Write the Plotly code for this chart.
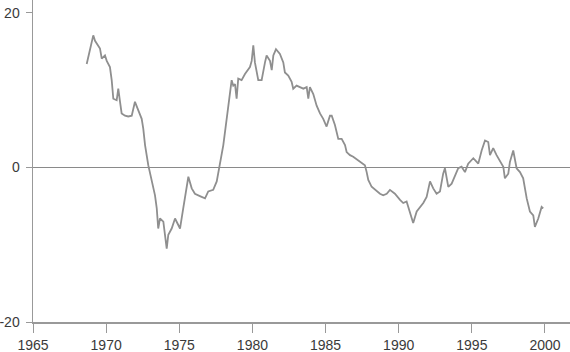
import plotly.graph_objects as go

years = [1968.67, 1969.12, 1969.24, 1969.46, 1969.58, 1969.70, 1969.92, 1970.04, 1970.26, 1970.38,
         1970.49, 1970.72, 1970.83, 1970.95, 1971.06, 1971.29, 1971.51, 1971.75, 1971.97, 1972.20,
         1972.43, 1972.54, 1972.66, 1972.88, 1973.11, 1973.34, 1973.46, 1973.56, 1973.68, 1973.91,
         1974.02, 1974.14, 1974.25, 1974.48, 1974.71, 1974.93, 1975.05, 1975.27, 1975.51, 1975.62,
         1975.85, 1976.07, 1976.41, 1976.76, 1976.98, 1977.32, 1977.56, 1977.78, 1978.01, 1978.24,
         1978.47, 1978.58, 1978.69, 1978.81, 1978.92, 1979.03, 1979.26, 1979.49, 1979.83, 1979.95,
         1980.06, 1980.17, 1980.40, 1980.63, 1980.86, 1980.97, 1981.20, 1981.32, 1981.43, 1981.61,
         1981.88, 1982.11, 1982.22, 1982.45, 1982.68, 1982.79, 1983.02, 1983.25, 1983.48, 1983.71,
         1983.82, 1983.93, 1984.16, 1984.39, 1984.62, 1984.84, 1985.07, 1985.30, 1985.42, 1985.64,
         1985.87, 1986.10, 1986.33, 1986.44, 1986.67, 1986.89, 1987.24, 1987.47, 1987.69, 1987.81,
         1987.92, 1988.15, 1988.38, 1988.72, 1988.94, 1989.18, 1989.40, 1989.74, 1990.09, 1990.31,
         1990.54, 1990.77, 1990.99, 1991.23, 1991.45, 1991.68, 1991.91, 1992.14, 1992.36, 1992.59,
         1992.82, 1993.04, 1993.16, 1993.39, 1993.62, 1993.84, 1994.07, 1994.30, 1994.53, 1994.75,
         1995.10, 1995.44, 1995.67, 1995.90, 1996.12, 1996.24, 1996.46, 1996.69, 1996.92, 1997.15,
         1997.26, 1997.49, 1997.60, 1997.83, 1998.06, 1998.29, 1998.51, 1998.75, 1998.97, 1999.20,
         1999.31, 1999.54, 1999.77, 1999.88]

values = [13.4, 17.1, 16.4, 15.8, 15.4, 14.1, 14.5, 13.8, 13.0, 11.3,
          8.9, 8.7, 10.2, 8.5, 7.0, 6.7, 6.6, 6.7, 8.5, 7.4,
          6.3, 5.0, 2.9, 0.3, -1.8, -3.6, -5.3, -7.9, -6.6, -7.0,
          -8.7, -10.5, -8.7, -7.9, -6.6, -7.6, -7.9, -5.3, -2.3, -1.2,
          -2.7, -3.4, -3.7, -4.0, -3.1, -2.9, -1.8, 0.3, 2.9, 6.3,
          9.8, 11.3, 10.6, 10.8, 8.9, 11.5, 11.3, 12.1, 13.0, 13.8,
          15.8, 13.6, 11.3, 11.3, 13.6, 14.5, 13.8, 12.6, 14.5, 15.3,
          14.7, 13.6, 12.3, 11.9, 11.1, 10.2, 10.6, 10.4, 10.2, 10.4,
          8.9, 10.4, 9.5, 8.0, 7.0, 6.3, 5.3, 6.7, 6.7, 5.5,
          3.7, 3.7, 2.9, 2.0, 1.6, 1.4, 0.9, 0.5, 0.3, -0.6,
          -1.6, -2.5, -2.9, -3.4, -3.6, -3.4, -2.9, -3.4, -4.2, -4.6,
          -4.4, -5.9, -7.2, -5.7, -5.1, -4.6, -3.8, -1.8, -2.7, -3.4,
          -3.1, -0.8, -0.1, -2.5, -2.1, -1.2, -0.1, 0.1, -0.6, 0.5,
          1.2, 0.5, 2.2, 3.5, 3.3, 1.6, 2.5, 1.6, 0.9, 0.1,
          -1.4, -0.8, 0.7, 2.2, -0.1, -0.6, -1.4, -4.0, -5.7, -6.2,
          -7.7, -6.6, -5.1, -5.3]

x_ticks = [1965, 1970, 1975, 1980, 1985, 1990, 1995, 2000]
y_ticks = [-20, 0, 20]

fig = go.Figure()
fig.add_trace(go.Scatter(x=years, y=values, mode="lines",
                         line=dict(color="#8f8f8f", width=1.8),
                         showlegend=False, hoverinfo="skip"))

fig.update_layout(
    width=570, height=352,
    margin=dict(l=33, r=0, t=0, b=30),
    paper_bgcolor="white", plot_bgcolor="white",
    font=dict(family="Liberation Sans, Arial, sans-serif", size=14, color="#3a3a3a"),
)
fig.update_xaxes(
    range=[1965, 2001.71], tickvals=x_ticks, ticktext=[str(t) for t in x_ticks],
    showgrid=False, zeroline=False, showline=True, linecolor="#999999", linewidth=1.5,
    ticks="outside", ticklen=9, tickwidth=1, tickcolor="#999999",
    ticklabelstandoff=1, automargin=False,
)
fig.update_yaxes(
    range=[-20, 21.68], tickvals=y_ticks, ticktext=[str(t) for t in y_ticks],
    showgrid=False, zeroline=True, zerolinecolor="#8a8a8a", zerolinewidth=1.3,
    showline=True, linecolor="#999999", linewidth=1.5,
    ticks="outside", ticklen=6, tickwidth=1, tickcolor="#999999",
    ticklabelstandoff=3, automargin=False,
)

fig.write_html(
    "out.html",
    config={"displayModeBar": False, "staticPlot": True},
    post_script="document.body.style.margin='0';document.body.style.overflow='hidden';",
)
